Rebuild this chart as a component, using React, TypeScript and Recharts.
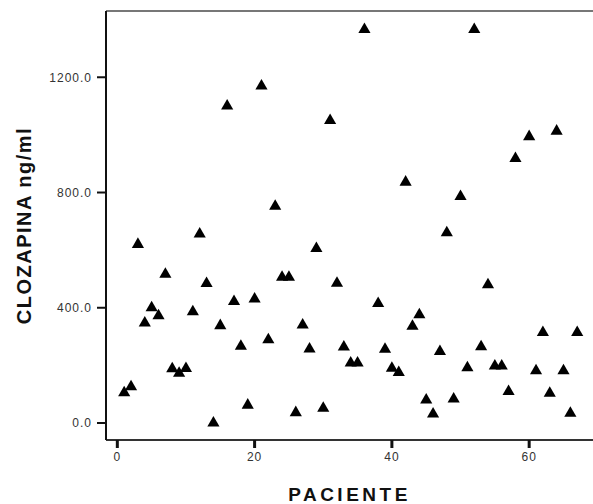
import { ScatterChart, Scatter, XAxis, YAxis, ReferenceLine, Label } from "recharts";

// patient number (x) and clozapine level in ng/ml (y)
const patients = [
  1, 2, 3, 4, 5, 6, 7, 8, 9, 10, 11, 12, 13, 14, 15, 16, 17, 18, 19, 20,
  21, 22, 23, 24, 25, 26, 27, 28, 29, 30, 31, 32, 33, 34, 35, 36, 38, 39, 40, 41,
  42, 43, 44, 45, 46, 47, 48, 49, 50, 51, 52, 53, 54, 55, 56, 57, 58, 60, 61, 62,
  63, 64, 65, 66, 67,
];
const clozapina = [
  105, 126, 620, 347, 400, 372, 516, 188, 173, 189, 386, 656, 484, 0, 338, 1100, 422, 266, 62, 430,
  1170, 289, 752, 506, 506, 36, 340, 257, 606, 51, 1050, 485, 264, 208, 208, 1366, 415, 256, 190, 175,
  836, 336, 376, 80, 31, 248, 660, 83, 786, 192, 1366, 265, 480, 198, 198, 109, 918, 994, 181, 314,
  103, 1013, 181, 34, 314,
];
const xTicks = [0, 20, 40, 60];
const yTicks = [0, 400, 800, 1200];

const data = patients.map((p, i) => ({ patient: p, value: clozapina[i] }));

const tickStyle = { fontSize: 12, fill: "#333", letterSpacing: 1 };

function YLabel({ viewBox }: any) {
  const cx = 24;
  const cy = viewBox.y + viewBox.height / 2;
  return (
    <text
      x={cx}
      y={cy}
      transform={`rotate(-90, ${cx}, ${cy})`}
      textAnchor="middle"
      dominantBaseline="central"
      fontSize={20}
      fontWeight="bold"
      letterSpacing={1.5}
      fill="#111"
    >
      CLOZAPINA ng/ml
    </text>
  );
}

export default function App() {
  return (
    <div style={{ position: "absolute", left: 0, top: 0, fontFamily: "'Liberation Sans', Arial, sans-serif" }}>
      <ScatterChart width={593} height={504} margin={{ top: 11, right: 0, bottom: 0, left: 0 }}>
        <XAxis
          type="number"
          dataKey="patient"
          domain={[-1.65, 69.3]}
          allowDataOverflow
          ticks={xTicks}
          height={64}
          tick={tickStyle}
          tickSize={8}
          tickMargin={4}
          tickLine={{ stroke: "#111", strokeWidth: 3 }}
          axisLine={{ stroke: "#333", strokeWidth: 2 }}
        >
          <Label
            value="PACIENTE"
            position="insideBottom"
            offset={3}
            fontSize={19}
            fontWeight="bold"
            letterSpacing={3.5}
            fill="#111"
          />
        </XAxis>
        <YAxis
          type="number"
          dataKey="value"
          domain={[-59, 1430]}
          allowDataOverflow
          ticks={yTicks}
          width={106}
          tickFormatter={(v: number) => v.toFixed(1)}
          tick={tickStyle}
          tickSize={9}
          tickMargin={5}
          tickLine={{ stroke: "#111", strokeWidth: 2 }}
          axisLine={{ stroke: "#111", strokeWidth: 2 }}
        >
          <Label content={YLabel} />
        </YAxis>
        <ReferenceLine y={1430} stroke="#777" strokeWidth={2} />
        <Scatter data={data} shape="triangle" fill="#000" legendType="triangle" isAnimationActive={false} />
      </ScatterChart>
    </div>
  );
}
